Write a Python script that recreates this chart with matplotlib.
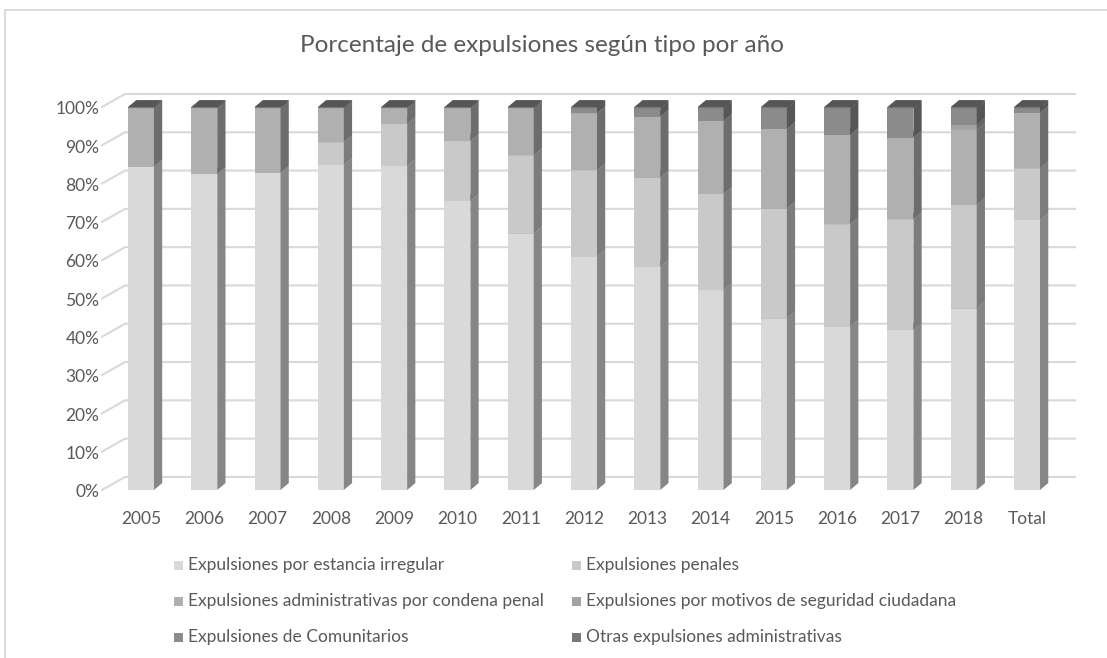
import matplotlib.pyplot as plt
from matplotlib.patches import Polygon, Rectangle

plt.rcParams['font.family'] = ['Lato', 'DejaVu Sans']

# datos (porcentaje de cada tipo sobre el total del año)
years = ['2005', '2006', '2007', '2008', '2009', '2010', '2011', '2012',
         '2013', '2014', '2015', '2016', '2017', '2018', 'Total']
irregular = [84.4, 82.5, 82.8, 84.9, 84.6, 75.5, 67.0, 60.9, 58.3, 52.2, 44.8, 42.6, 41.8, 47.4, 70.5]
penales = [0.0, 0.0, 0.0, 5.9, 11.0, 15.6, 20.4, 22.6, 23.3, 25.1, 28.7, 26.8, 28.9, 27.0, 13.5]
admin_condena = [15.3, 17.2, 16.9, 8.9, 4.1, 8.6, 12.3, 14.9, 15.9, 19.1, 20.8, 23.3, 21.3, 19.6, 14.5]
seguridad = [0.0, 0.0, 0.0, 0.0, 0.0, 0.0, 0.0, 0.0, 0.0, 0.0, 0.0, 0.0, 0.0, 1.3, 0.0]
comunitarios = [0.0, 0.0, 0.0, 0.0, 0.0, 0.0, 0.0, 1.3, 2.2, 3.3, 5.4, 7.0, 7.7, 4.4, 1.2]
otras = [0.3] * 15

series = [irregular, penales, admin_condena, seguridad, comunitarios, otras]
names = ['Expulsiones por estancia irregular', 'Expulsiones penales',
         'Expulsiones administrativas por condena penal',
         'Expulsiones por motivos de seguridad ciudadana',
         'Expulsiones de Comunitarios', 'Otras expulsiones administrativas']
colors = ['#d9d9d9', '#c9c9c9', '#b0b0b0', '#a3a3a3', '#8b8b8b', '#787878']
pct_ticks = list(range(0, 101, 10))


def shade(hexcol, f):
    v = int(hexcol[1:3], 16)
    v = int(v * f)
    return '#{0:02x}{0:02x}{0:02x}'.format(v)


W, H = 1107, 658
fig = plt.figure(figsize=(W / 100, H / 100), dpi=100)
# marco del gráfico
fig.patches.append(Rectangle((5 / W, -0.1), 1.2, 1 - 10 / H + 0.1, transform=fig.transFigure,
                             fill=False, ec='#d9d9d9', lw=1.3))

ax = fig.add_axes([96.7 / W, (H - 493.8) / H, (1084 - 96.7) / W, (493.8 - 84) / H])
ax.set_xlim(-0.7, 14.9)
ax.set_ylim(-1, 106)
ax.axis('off')

# profundidad 3D (unidades de datos)
bw = 0.41          # ancho de la cara frontal
bdx, bdy = 0.13, 1.8   # profundidad de la barra
wdx, wdy = 0.363, 3.4  # desplazamiento de la pared del fondo
x_left = -0.616
x_right = 14.76

for p in pct_ticks:
    ax.plot([x_left, x_left + wdx, x_right], [p, p + wdy, p + wdy], color='#d9d9d9', lw=1.5, zorder=1)
    ax.text(x_left - 0.04, p - 0.6, f'{p}%', ha='right', va='center', fontsize=12.5, color='#595959')

for i, yr in enumerate(years):
    x0 = i - bw / 2
    x1 = i + bw / 2
    bottom = 0
    for s, vals in enumerate(series):
        v = vals[i]
        if v <= 0:
            continue
        top = bottom + v
        c = colors[s]
        ax.add_patch(Polygon([(x0, bottom), (x1, bottom), (x1, top), (x0, top)],
                             closed=True, fc=c, ec='none', zorder=3))
        ax.add_patch(Polygon([(x1, bottom), (x1 + bdx, bottom + bdy), (x1 + bdx, top + bdy), (x1, top)],
                             closed=True, fc=shade(c, 0.62), ec='none', zorder=3))
        ax.add_patch(Polygon([(x0, top), (x1, top), (x1 + bdx, top + bdy), (x0 + bdx, top + bdy)],
                             closed=True, fc=shade(c, 0.72), ec='none', zorder=3))
        bottom = top
    ax.text(i, -5.5, yr, ha='center', va='top', fontsize=12.5, color='#595959')

fig.text(0.49, 1 - 45 / H, 'Porcentaje de expulsiones según tipo por año', ha='center', va='center',
         fontsize=17.5, color='#595959')

# leyenda (2 columnas, 3 filas)
col_x = [174, 572]
row_y = [565, 601, 637]
for k, name in enumerate(names):
    cx = col_x[k % 2]
    cy = row_y[k // 2]
    fig.patches.append(Rectangle((cx / W, (H - cy - 4.5) / H), 9 / W, 9 / H, transform=fig.transFigure,
                                 fc=colors[k], ec='none'))
    fig.text((cx + 14) / W, (H - cy) / H, name, ha='left', va='center', fontsize=12.5, color='#595959')

fig.savefig('out.png', dpi=100)
